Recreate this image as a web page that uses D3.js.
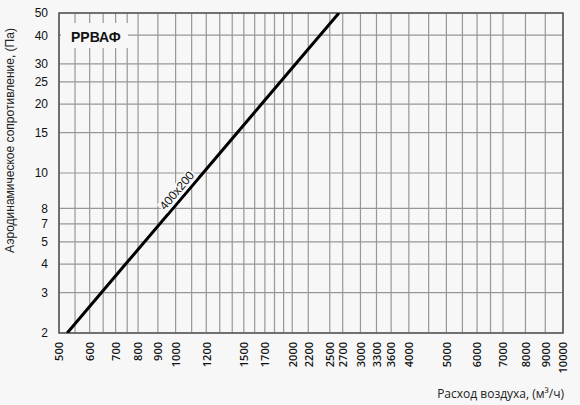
<!DOCTYPE html>
<html>
<head>
<meta charset="utf-8">
<script src="https://cdn.jsdelivr.net/npm/d3@7"></script>
<style>
  html, body { margin: 0; padding: 0; background: #f7f7f7; }
  svg { display: block; }
</style>
</head>
<body>
<svg id="chart" width="580" height="405"></svg>
<script>
// ---- data ----
const seriesName = "400x200";
const flow = [525, 743, 1177, 1667, 2640];      // м³/ч
const pressure = [2, 4, 10, 20, 50];            // Па
const xTickValues = [500, 600, 700, 800, 900, 1000, 1200, 1500, 1700, 2000, 2200, 2500, 2700, 3000, 3300, 3600, 4000, 5000, 6000, 7000, 8000, 9000, 10000];
const xGridValues = [500, 550, 600, 650, 700, 750, 800, 900, 1000, 1100, 1200, 1300, 1400, 1500, 1600, 1700, 1800, 1900, 2000, 2200, 2500, 2700, 3000, 3300, 3600, 4000, 4500, 5000, 5500, 6000, 6500, 7000, 8000, 9000, 10000];
const yGridValues = [2, 3, 4, 5, 6, 7, 10, 15, 20, 25, 30, 40, 50];
const yTickLabels = ["2", "3", "4", "5", "7", "8", "10", "15", "20", "25", "30", "40", "50"];
const labelFlow = 1050, labelPressure = 7.9;
const title = "РРВАФ";
const xTitle = "Расход воздуха, (м³/ч)";
const yTitle = "Аэродинамическое сопротивление, (Па)";

// ---- layout ----
const W = 580, H = 405;
const margin = { top: 13, right: 17, bottom: 72, left: 59 };
const bg = "#f7f7f7";
const svg = d3.select("#chart");

const x = d3.scaleLog().domain([500, 10000]).range([margin.left, W - margin.right]);
const y = d3.scaleLog().domain([2, 50]).range([H - margin.bottom, margin.top]);

svg.append("rect").attr("width", W).attr("height", H).attr("fill", bg);

// clip
svg.append("clipPath").attr("id", "plot")
  .append("rect")
  .attr("x", margin.left).attr("y", margin.top)
  .attr("width", W - margin.left - margin.right)
  .attr("height", H - margin.top - margin.bottom);

// grid
const grid = svg.append("g").attr("stroke", "#979797").attr("stroke-width", 1.2);
grid.selectAll("line.v").data(xGridValues).join("line")
  .attr("class", "v")
  .attr("x1", d => x(d)).attr("x2", d => x(d))
  .attr("y1", margin.top).attr("y2", H - margin.bottom);
grid.selectAll("line.h").data(yGridValues).join("line")
  .attr("class", "h")
  .attr("x1", margin.left).attr("x2", W - margin.right)
  .attr("y1", d => y(d)).attr("y2", d => y(d));

// title box
svg.append("rect").attr("x", 61).attr("y", 23).attr("width", 67).attr("height", 25).attr("fill", bg);
svg.append("text").attr("x", 71).attr("y", 42)
  .attr("font-family", "Liberation Sans, Arial, sans-serif")
  .attr("font-weight", "bold").attr("font-size", 14).attr("fill", "#111")
  .text(title);

// frame
svg.append("rect")
  .attr("x", margin.left).attr("y", margin.top)
  .attr("width", W - margin.left - margin.right)
  .attr("height", H - margin.top - margin.bottom)
  .attr("fill", "none").attr("stroke", "#555").attr("stroke-width", 1.5);

// axes (labels only)
const yAxis = d3.axisLeft(y).tickValues(yGridValues)
  .tickFormat((d, i) => yTickLabels[i]).tickSize(0).tickPadding(11);
const gy = svg.append("g").attr("transform", `translate(${margin.left},0)`).call(yAxis);
gy.select(".domain").remove();
gy.selectAll("text").attr("font-family", "Liberation Sans, Arial, sans-serif")
  .attr("font-size", 12).attr("fill", "#111");

const xAxis = d3.axisBottom(x).tickValues(xTickValues)
  .tickFormat(d => String(d)).tickSize(0).tickPadding(0);
const gx = svg.append("g").attr("transform", `translate(0,${H - margin.bottom})`).call(xAxis);
gx.select(".domain").remove();
gx.selectAll("text")
  .attr("font-family", "Open Sans, sans-serif").attr("font-weight", 600)
  .attr("font-size", 11).attr("fill", "#111")
  .attr("text-anchor", "end")
  .attr("transform", "rotate(-90)")
  .attr("x", -9).attr("y", 0).attr("dy", "0.35em");

// curve
const pts = flow.map((q, i) => [q, pressure[i]]);
svg.append("path")
  .attr("clip-path", "url(#plot)")
  .attr("d", d3.line().x(d => x(d[0])).y(d => y(d[1]))(pts))
  .attr("fill", "none").attr("stroke", "#000").attr("stroke-width", 3);

// curve label
const angle = Math.atan2(y(pressure[pressure.length - 1]) - y(pressure[0]),
                         x(flow[flow.length - 1]) - x(flow[0])) * 180 / Math.PI;
const lg = svg.append("g")
  .attr("transform", `translate(${x(labelFlow)},${y(labelPressure)}) rotate(${angle})`);
const lt = lg.append("text")
  .attr("text-anchor", "middle").attr("y", -5)
  .attr("font-family", "Liberation Sans, Arial, sans-serif")
  .attr("font-size", 12).attr("fill", "#111")
  .text(seriesName);
const bb = lt.node().getBBox();
lg.insert("rect", "text")
  .attr("x", bb.x - 1).attr("y", bb.y + 1).attr("width", bb.width + 2).attr("height", bb.height - 1)
  .attr("fill", bg);

// axis titles
svg.append("text")
  .attr("transform", `translate(14,${(margin.top + 258) / 2 + 5}) rotate(-90)`)
  .attr("text-anchor", "middle")
  .attr("font-family", "Liberation Sans, Arial, sans-serif")
  .attr("font-size", 12).attr("fill", "#222")
  .text(yTitle);
svg.append("text")
  .attr("x", 564).attr("y", 398).attr("text-anchor", "end")
  .attr("font-family", "Open Sans, sans-serif")
  .attr("font-size", 12).attr("fill", "#222")
  .text(xTitle);
</script>
</body>
</html>
